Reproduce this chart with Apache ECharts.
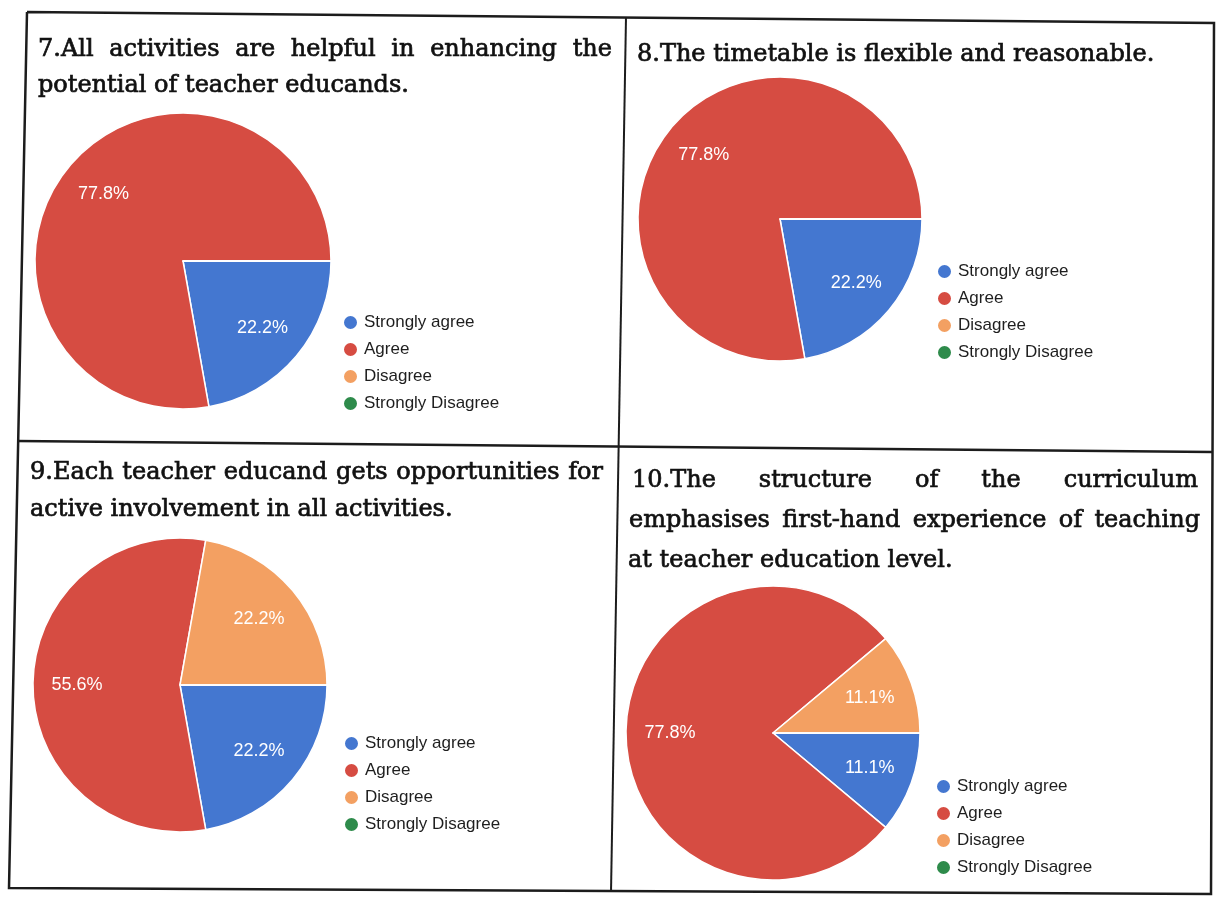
<!DOCTYPE html>
<html>
<head>
<meta charset="utf-8">
<title>Survey responses, items 7–10</title>
<script src="https://cdn.jsdelivr.net/npm/echarts@6/dist/echarts.min.js"></script>
<style>
  html, body { margin: 0; padding: 0; background: #ffffff; }
  #chart { width: 1219px; height: 901px; }
</style>
</head>
<body>
<div id="chart"></div>
<script>
// Response options, shared by every item
const categories = ['Strongly agree', 'Agree', 'Disagree', 'Strongly Disagree'];

// Percentage of respondents choosing each option, per item
const q7Values = [22.2, 77.8, 0, 0];
const q8Values = [22.2, 77.8, 0, 0];
const q9Values = [22.2, 55.6, 22.2, 0];
const q10Values = [11.1, 77.8, 11.1, 0];

// Item statements, one entry per printed line
const q7Title = ['7.All activities are helpful in enhancing the', 'potential of teacher educands.'];
const q8Title = ['8.The timetable is flexible and reasonable.'];
const q9Title = ['9.Each teacher educand gets opportunities for', 'active involvement in all activities.'];
const q10Title = ['10.The structure of the curriculum', 'emphasises first-hand experience of teaching', 'at teacher education level.'];

const sliceColors = ['#4477d0', '#d64c42', '#f3a062', '#2e8b4b'];

// Placement of each panel's pie, legend and statement lines
const panels = [
  { values: q7Values, title: q7Title, center: [183, 261], radius: 148, legend: [337, 309],
    lines: [{ x0: 38, x1: 612, y: 50 }, { x0: 38, y: 86 }] },
  { values: q8Values, title: q8Title, center: [780, 219], radius: 142, legend: [931, 258],
    lines: [{ x0: 637, y: 55 }] },
  { values: q9Values, title: q9Title, center: [180, 685], radius: 147, legend: [338, 730],
    lines: [{ x0: 30, x1: 603, y: 473 }, { x0: 30, y: 510 }] },
  { values: q10Values, title: q10Title, center: [773, 733], radius: 147, legend: [930, 773],
    lines: [{ x0: 632, x1: 1198, y: 481 }, { x0: 629, x1: 1200, y: 521 }, { x0: 628, y: 561 }] }
];

const titleFont = '24px "DejaVu Serif"';
const measureCtx = document.createElement('canvas').getContext('2d');
measureCtx.font = titleFont;

function textEl(str, x, y) {
  return {
    type: 'text', x: x, y: y, silent: true,
    style: {
      text: str, font: titleFont, fill: '#111111',
      stroke: '#111111', lineWidth: 0.7,
      textAlign: 'left', textVerticalAlign: 'middle'
    }
  };
}

// Lines with a right edge are set justified, word by word
function statementElements(panel) {
  const els = [];
  panel.title.forEach(function (line, i) {
    const pos = panel.lines[i];
    if (pos.x1 === undefined) {
      els.push(textEl(line, pos.x0, pos.y));
      return;
    }
    const words = line.split(' ');
    const widths = words.map(function (w) { return measureCtx.measureText(w).width; });
    const total = widths.reduce(function (a, b) { return a + b; }, 0);
    const gap = words.length > 1 ? (pos.x1 - pos.x0 - total) / (words.length - 1) : 0;
    let x = pos.x0;
    words.forEach(function (w, k) {
      els.push(textEl(w, x, pos.y));
      x += widths[k] + gap;
    });
  });
  return els;
}

// Table rules around and between the four panels
const frameColor = '#1c1c1c';
function rule(points, width) {
  return {
    type: 'polyline', silent: true,
    shape: { points: points },
    style: { stroke: frameColor, lineWidth: width, fill: null }
  };
}
const frame = [
  rule([[27, 12], [1214, 23], [1211, 894], [9, 888], [27, 12]], 2.5),
  rule([[626, 17], [611, 892]], 2),
  rule([[17, 441], [1212, 452]], 2.5)
];

const series = [];
const legends = [];
panels.forEach(function (p) {
  const data = categories.map(function (name, k) {
    return { name: name, value: p.values[k], itemStyle: { color: sliceColors[k] } };
  });
  // Filled slices
  series.push({
    type: 'pie', center: p.center, radius: [0, p.radius],
    startAngle: 0, clockwise: true, silent: true, animation: false,
    label: { show: false }, labelLine: { show: false },
    emphasis: { disabled: true },
    itemStyle: { borderColor: '#ffffff', borderWidth: 1.5 },
    data: data
  });
  // Transparent ring carrying the percentage labels
  series.push({
    type: 'pie', center: p.center, radius: [p.radius * 0.36, p.radius],
    startAngle: 0, clockwise: true, silent: true, animation: false,
    avoidLabelOverlap: false,
    emphasis: { disabled: true },
    itemStyle: { color: 'rgba(0,0,0,0)', borderWidth: 0 },
    labelLine: { show: false },
    label: {
      show: true, position: 'inside',
      color: '#ffffff', fontFamily: '"Liberation Sans", Arial, sans-serif', fontSize: 18,
      formatter: function (d) { return d.value > 0 ? d.value.toFixed(1) + '%' : ''; }
    },
    data: categories.map(function (name, k) { return { name: name, value: p.values[k] }; })
  });
  legends.push({
    orient: 'vertical', left: p.legend[0], top: p.legend[1],
    selectedMode: false, icon: 'circle',
    itemWidth: 15, itemHeight: 15, itemGap: 10,
    textStyle: {
      color: '#1e1e1e', fontFamily: '"Liberation Sans", Arial, sans-serif',
      fontSize: 17, lineHeight: 15, padding: [0, 0, 0, 1]
    },
    data: categories
  });
});

const chart = echarts.init(document.getElementById('chart'), null, { renderer: 'canvas' });
chart.setOption({
  backgroundColor: '#ffffff',
  animation: false,
  legend: legends,
  series: series,
  graphic: frame.concat(panels.reduce(function (acc, p) { return acc.concat(statementElements(p)); }, []))
});
</script>
</body>
</html>
